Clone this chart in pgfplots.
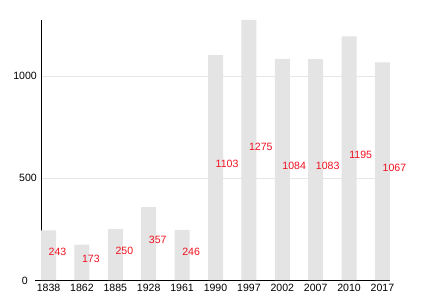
\documentclass[border=0pt]{standalone}
\usepackage{pgfplots}
\pgfplotsset{compat=1.18}
\usepackage{fontspec}
\setmainfont{Liberation Sans}
\definecolor{barc}{HTML}{E4E4E4}
\definecolor{gridc}{HTML}{E6E6E6}
\definecolor{labc}{HTML}{F0101E}
\begin{document}
\fontsize{10.6}{12}\selectfont
\begin{tikzpicture}
\useasboundingbox (-41bp,-20bp) rectangle (389bp,280bp);
\begin{axis}[
  at={(0,0)}, anchor=south west,
  scale only axis, width=349bp, height=260bp,
  xmin=-0.225, xmax=10.225, ymin=0, ymax=1275,
  axis x line=bottom, axis y line=left,
  axis line style={-, black, line width=0.8pt},
  x axis line style={shorten <=-6bp},
  xtick={0,...,10},
  xticklabels={1838,1862,1885,1928,1961,1990,1997,2002,2007,2010,2017},
  ytick={500,1000},
  extra y ticks={0},
  extra y tick style={yticklabel style={xshift=-9bp, yshift=-1bp}, grid=none},
  major tick length=0pt,
  ymajorgrids, grid style={gridc, line width=0.6pt},
  xticklabel style={yshift=-0.5bp, font=\fontsize{10.6}{12}\selectfont},
  yticklabel style={xshift=-0.5bp, font=\fontsize{10.6}{12}\selectfont},
  /pgf/number format/assume math mode=true,
  /pgf/number format/1000 sep={},
  clip=false,
]
\addplot[ybar, bar width=15bp, fill=barc, draw=none] table[x=x, y=v] {
x v
0 243
1 173
2 250
3 357
4 246
5 1103
6 1275
7 1084
8 1083
9 1195
10 1067
};
\addplot[draw=none, mark=none, nodes near coords, point meta=explicit symbolic,
  nodes near coords style={anchor=west, inner sep=0pt, xshift=0bp, yshift=3.5bp, text=labc, font=\fontsize{10.6}{12}\selectfont}]
  table[x=x, y expr=\thisrow{v}/2, meta=v] {
x v
0 243
1 173
2 250
3 357
4 246
5 1103
6 1275
7 1084
8 1083
9 1195
10 1067
};
\end{axis}
\end{tikzpicture}
\end{document}
